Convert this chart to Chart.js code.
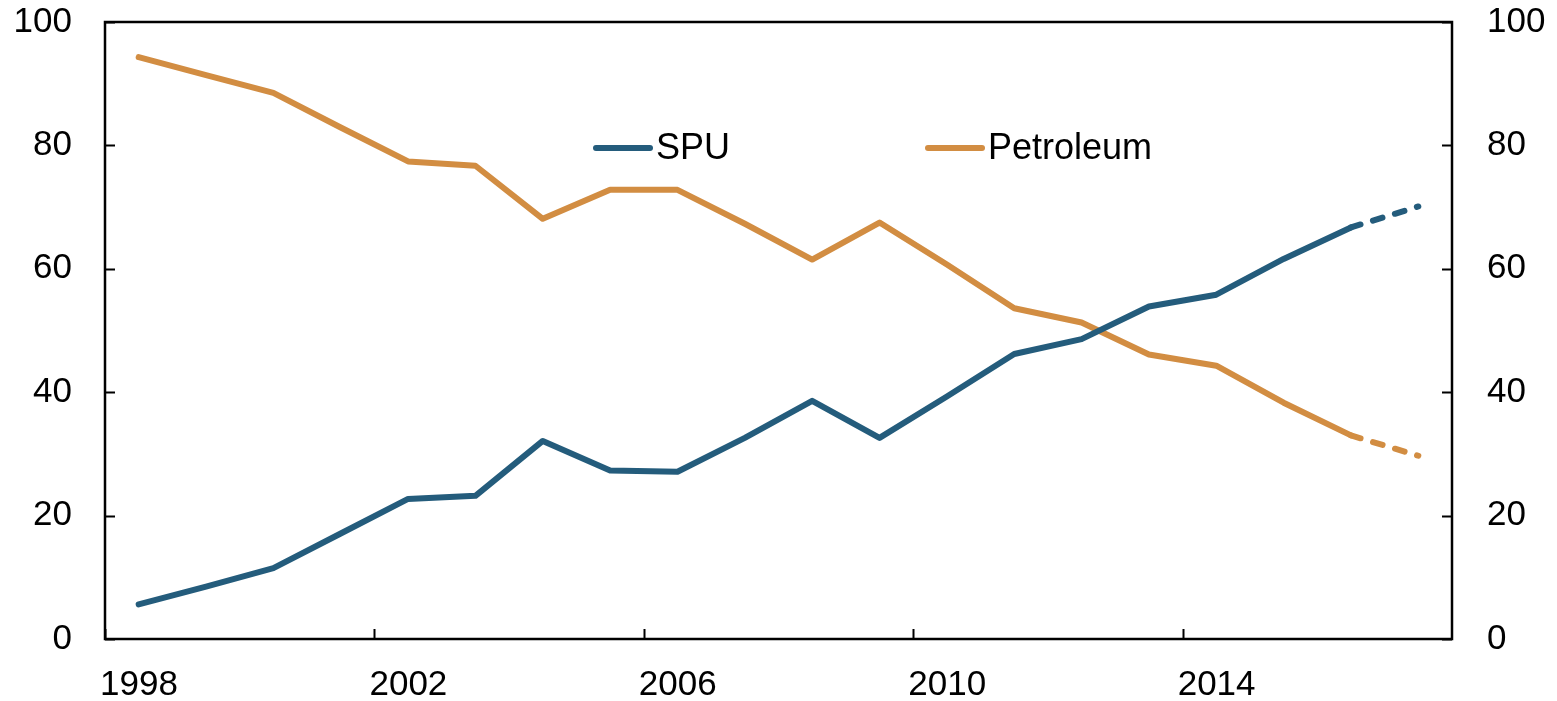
<!DOCTYPE html>
<html lang="en">
<head>
  <meta charset="UTF-8" />
  <title>SPU vs Petroleum</title>
  <script src="https://cdn.jsdelivr.net/npm/chart.js@4.4.1/dist/chart.umd.min.js"></script>
  <style>
    html, body { margin: 0; padding: 0; background: #fff; }
    #wrap { width: 1557px; height: 701px; }
  </style>
</head>
<body>
  <div id="wrap"><canvas id="chart" width="1557" height="701"></canvas></div>

  <script>
    // annual observations, plotted at mid-year; last year is a projection (dashed)
    const years = [1998, 1999, 2000, 2001, 2002, 2003, 2004, 2005, 2006, 2007,
                   2008, 2009, 2010, 2011, 2012, 2013, 2014, 2015, 2016, 2017];
    const spu = [5.6, 8.5, 11.5, 17.1, 22.7, 23.2, 32.1, 27.3, 27.1, 32.6,
                 38.6, 32.6, 39.3, 46.2, 48.6, 53.9, 55.8, 61.6, 66.7, 70.1];
    const petroleum = [94.3, 91.4, 88.5, 82.9, 77.4, 76.7, 68.1, 72.8, 72.8, 67.3,
                       61.5, 67.5, 60.7, 53.6, 51.3, 46.1, 44.3, 38.3, 33.0, 29.7];
    const xTicks = [1998, 2002, 2006, 2010, 2014];
    const yTicks = [0, 20, 40, 60, 80, 100];

    const FONT = '"Liberation Sans", Arial, sans-serif';
    const lastIdx = years.length - 1;

    function toPoints(vals) {
      return vals.map((v, i) => ({ x: years[i] + 0.5, y: v }));
    }

    const dashLast = {
      borderDash: ctx => ctx.p1DataIndex === lastIdx ? [10, 13] : undefined
    };

    // vertical axes: fixed width, no extra top/bottom padding
    function fitY(s) {
      s.width = 105;
      s.paddingTop = 0;
      s.paddingBottom = 0;
    }

    // frame + inward tick marks
    const framePlugin = {
      id: 'frame',
      afterDatasetsDraw(chart) {
        const { ctx, chartArea: a, scales } = chart;
        ctx.save();
        ctx.strokeStyle = '#000';
        ctx.lineWidth = 2;
        ctx.beginPath();
        xTicks.forEach(t => {
          const px = Math.round(scales.x.getPixelForValue(t)) + 0.5;
          ctx.moveTo(px, a.bottom);
          ctx.lineTo(px, a.bottom - 10);
        });
        yTicks.forEach(t => {
          const py = Math.round(scales.y.getPixelForValue(t)) + 0.5;
          ctx.moveTo(a.left, py);
          ctx.lineTo(a.left + 10, py);
          ctx.moveTo(a.right, py);
          ctx.lineTo(a.right - 10, py);
        });
        ctx.stroke();
        ctx.lineWidth = 2.5;
        ctx.strokeRect(a.left, a.top, a.right - a.left, a.bottom - a.top);
        ctx.restore();
      }
    };

    // legend drawn inside the plot area
    const legendPlugin = {
      id: 'inLegend',
      afterDraw(chart, args, opts) {
        const { ctx } = chart;
        ctx.save();
        ctx.font = '36px ' + FONT;
        ctx.textBaseline = 'middle';
        ctx.fillStyle = '#000';
        chart.data.datasets.forEach((ds, i) => {
          const p = opts.items[i];
          ctx.strokeStyle = ds.borderColor;
          ctx.lineWidth = 6;
          ctx.lineCap = 'round';
          ctx.beginPath();
          ctx.moveTo(p.x, opts.y);
          ctx.lineTo(p.x + 54, opts.y);
          ctx.stroke();
          ctx.fillText(ds.label, p.x + 60, opts.y + 1);
        });
        ctx.restore();
      }
    };

    new Chart(document.getElementById('chart'), {
      type: 'line',
      data: {
        datasets: [
          {
            label: 'SPU',
            data: toPoints(spu),
            borderColor: '#245C7C',
            borderWidth: 6,
            borderJoinStyle: 'round',
            borderCapStyle: 'round',
            pointRadius: 0,
            tension: 0,
            segment: dashLast
          },
          {
            label: 'Petroleum',
            data: toPoints(petroleum),
            borderColor: '#D28D42',
            borderWidth: 6,
            borderJoinStyle: 'round',
            borderCapStyle: 'round',
            pointRadius: 0,
            tension: 0,
            segment: dashLast
          }
        ]
      },
      options: {
        responsive: false,
        animation: false,
        layout: { padding: { top: 22, left: 0, right: 0, bottom: 0 } },
        plugins: {
          legend: { display: false },
          tooltip: { enabled: false },
          inLegend: { y: 148, items: [{ x: 596 }, { x: 928 }] }
        },
        scales: {
          x: {
            type: 'linear',
            min: 1998,
            max: 2018,
            grid: { display: false, drawTicks: false },
            border: { display: false },
            afterBuildTicks: s => { s.ticks = xTicks.map(v => ({ value: v })); },
            afterFit: s => { s.height = 62; },
            ticks: {
              color: '#000',
              font: { size: 35, family: FONT },
              padding: 25,
              labelOffset: 34,
              maxRotation: 0,
              autoSkip: false,
              callback: v => String(v)
            }
          },
          y: {
            position: 'left',
            min: 0,
            max: 100,
            grid: { display: false, drawTicks: false },
            border: { display: false },
            afterBuildTicks: s => { s.ticks = yTicks.map(v => ({ value: v })); },
            afterFit: fitY,
            ticks: {
              color: '#000',
              font: { size: 35, family: FONT },
              padding: 33
            }
          },
          y2: {
            position: 'right',
            min: 0,
            max: 100,
            grid: { display: false, drawTicks: false },
            border: { display: false },
            afterBuildTicks: s => { s.ticks = yTicks.map(v => ({ value: v })); },
            afterFit: fitY,
            ticks: {
              color: '#000',
              font: { size: 35, family: FONT },
              padding: 35
            }
          }
        }
      },
      plugins: [framePlugin, legendPlugin]
    });
  </script>
</body>
</html>
